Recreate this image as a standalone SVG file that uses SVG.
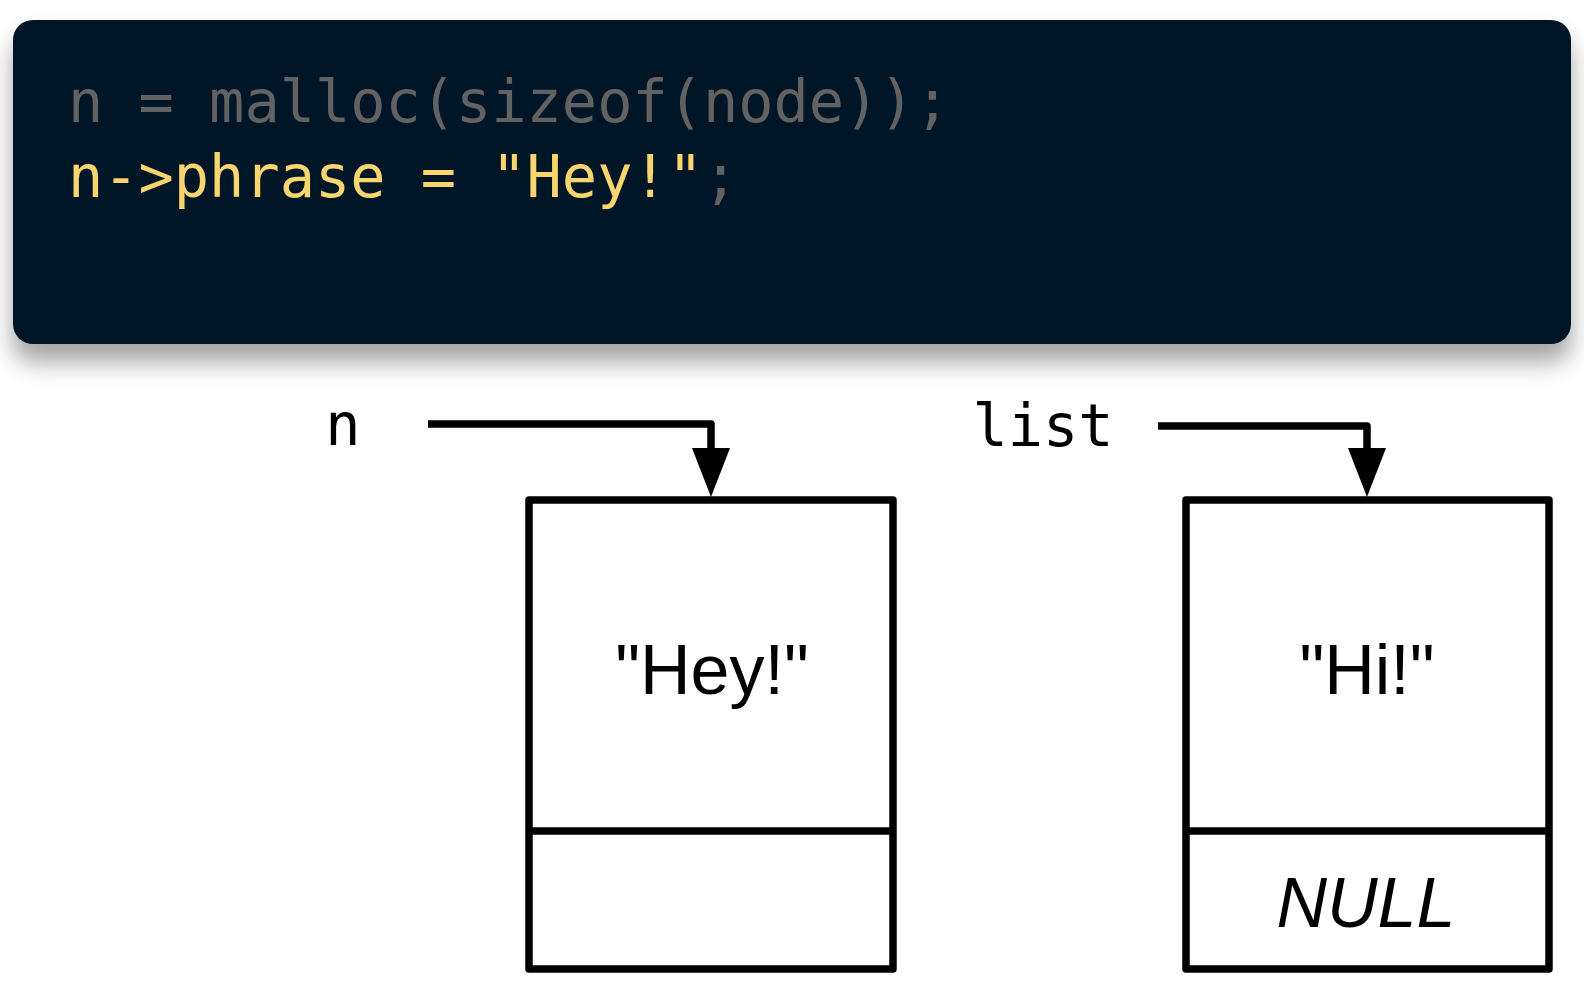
<svg xmlns="http://www.w3.org/2000/svg" width="1584" height="992" viewBox="0 0 1584 992">
  <style>
    .code { font-family: "DejaVu Sans Mono", "Liberation Mono", monospace; font-size: 58.6px; }
    .gray { fill: #626262; }
    .yellow { fill: #f9d56f; }
    .label { font-family: "DejaVu Sans Mono", "Liberation Mono", monospace; font-size: 58.6px; fill: #000; text-anchor: middle; }
    .val { font-family: "Liberation Sans", Arial, sans-serif; font-size: 70px; fill: #000; text-anchor: middle; }
    .box { fill: #fff; stroke: #000; stroke-width: 7.5; stroke-linejoin: round; }
    .div { stroke: #000; stroke-width: 7.5; }
    .conn { fill: none; stroke: #000; stroke-width: 7.5; stroke-linejoin: round; marker-end: url(#head); }
  </style>
  <defs>
    <filter id="shadow" x="-5%" y="-20%" width="110%" height="160%">
      <feDropShadow dx="0" dy="18" stdDeviation="12" flood-color="#000" flood-opacity="0.36"/>
    </filter>
    <marker id="head" markerUnits="userSpaceOnUse" markerWidth="49" markerHeight="38" viewBox="0 0 49 38" refX="4" refY="19" orient="auto">
      <path d="M0,0 L49,19 L0,38 Z" fill="#000"/>
    </marker>
  </defs>
  <rect width="1584" height="992" fill="#fff"/>

  <g id="code">
    <rect x="13" y="20" width="1558" height="324" rx="20" ry="20" fill="#031626" filter="url(#shadow)"/>
    <text class="code gray" x="68" y="122">n = malloc(sizeof(node));</text>
    <text class="code yellow" x="68" y="197">n-&gt;phrase = "Hey!"<tspan class="gray">;</tspan></text>
  </g>

  <g id="label-n">
    <text class="label" x="343" y="445">n</text>
  </g>
  <g id="label-list">
    <text class="label" x="1043" y="446">list</text>
  </g>

  <g id="node-hey">
    <rect class="box" x="529" y="500" width="364" height="469"/>
    <line class="div" x1="529" y1="831" x2="893" y2="831"/>
    <text class="val" x="712" y="694">"Hey!"</text>
  </g>

  <g id="node-hi">
    <rect class="box" x="1186" y="500" width="363" height="469"/>
    <line class="div" x1="1186" y1="831" x2="1549" y2="831"/>
    <text class="val" x="1367" y="694">"Hi!"</text>
    <text class="val" x="1366" y="927" font-style="italic">NULL</text>
  </g>

  <g id="connectors">
    <path class="conn" d="M428,424 H711 V452"/>
    <path class="conn" d="M1158,426 H1367 V452"/>
  </g>
</svg>
